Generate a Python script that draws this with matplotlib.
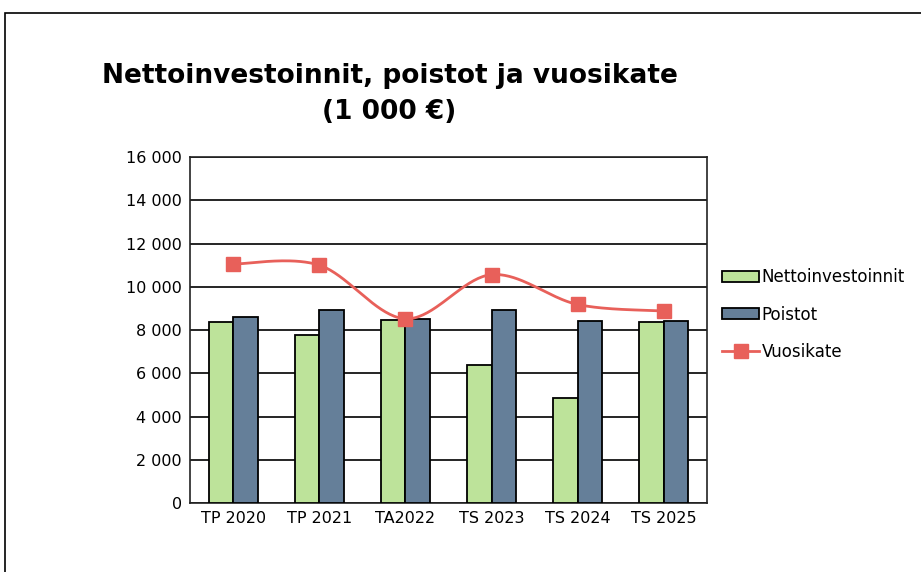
import numpy as np
import matplotlib
matplotlib.use("Agg")
import matplotlib.pyplot as plt
from matplotlib.patches import Rectangle

categories = ["TP 2020", "TP 2021", "TA2022", "TS 2023", "TS 2024", "TS 2025"]
nettoinvestoinnit = [8370, 7780, 8450, 6370, 4840, 8370]
poistot = [8580, 8940, 8490, 8940, 8400, 8400]
vuosikate = [11050, 11000, 8520, 10560, 9180, 8880]

GREEN = "#BDE39A"
BLUE = "#657F99"
RED = "#E8605A"


def smooth(xs, ys, n=40):
    # Excel-like smoothed line (Catmull-Rom via cubic Bezier)
    xs = np.asarray(xs, float)
    ys = np.asarray(ys, float)
    px, py = [], []
    for i in range(len(xs) - 1):
        x0, y0 = (xs[i - 1], ys[i - 1]) if i > 0 else (xs[i], ys[i])
        x3, y3 = (xs[i + 2], ys[i + 2]) if i + 2 < len(xs) else (xs[i + 1], ys[i + 1])
        x1, y1 = xs[i], ys[i]
        x2, y2 = xs[i + 1], ys[i + 1]
        c1x, c1y = x1 + (x2 - x0) / 6, y1 + (y2 - y0) / 6
        c2x, c2y = x2 - (x3 - x1) / 6, y2 - (y3 - y1) / 6
        t = np.linspace(0, 1, n)
        bx = (1 - t) ** 3 * x1 + 3 * (1 - t) ** 2 * t * c1x + 3 * (1 - t) * t ** 2 * c2x + t ** 3 * x2
        by = (1 - t) ** 3 * y1 + 3 * (1 - t) ** 2 * t * c1y + 3 * (1 - t) * t ** 2 * c2y + t ** 3 * y2
        px.extend(bx)
        py.extend(by)
    return px, py


plt.rcParams["font.family"] = ["DejaVu Sans"]

fig = plt.figure(figsize=(9.21, 5.72), dpi=100)
ax = fig.add_axes([0.2063, 0.1206, 0.5613, 0.6049])

x = np.arange(len(categories))
w = 0.285
ax.bar(x - w / 2, nettoinvestoinnit, w, color=GREEN, edgecolor="black", linewidth=1.3,
       label="Nettoinvestoinnit", zorder=3)
ax.bar(x + w / 2, poistot, w, color=BLUE, edgecolor="black", linewidth=1.3,
       label="Poistot", zorder=3)
sx, sy = smooth(x, vuosikate)
ax.plot(sx, sy, color=RED, linewidth=2, zorder=4)
ax.plot(x, vuosikate, linestyle="none", marker="s", markersize=9.5, color=RED, zorder=5)
ax.plot([], [], color=RED, linewidth=2, marker="s", markersize=9.5, label="Vuosikate")

ax.set_xlim(-0.5, len(categories) - 0.5)
ax.set_ylim(0, 16000)
ax.set_yticks(range(0, 16001, 2000))
ax.set_yticklabels([f"{v:,}".replace(",", " ") for v in range(0, 16001, 2000)])
ax.set_xticks(x)
ax.set_xticklabels(categories)
ax.tick_params(length=0, labelsize=11.5, pad=6)
ax.grid(axis="y", color="black", linewidth=1.2, zorder=0)
for s in ax.spines.values():
    s.set_linewidth(1.2)
    s.set_color("#222222")

handles, labels = ax.get_legend_handles_labels()
order = [labels.index(l) for l in ["Nettoinvestoinnit", "Poistot", "Vuosikate"]]
fig.legend([handles[i] for i in order], [labels[i] for i in order],
           loc="center left", bbox_to_anchor=(0.768, 0.45), frameon=False,
           fontsize=12, handlelength=2.2, handleheight=0.6, handletextpad=0.15,
           labelspacing=1.15)

fig.text(0.423, 0.867, "Nettoinvestoinnit, poistot ja vuosikate", ha="center", va="center",
         fontsize=19, fontweight="bold")
fig.text(0.423, 0.805, "(1 000 €)", ha="center", va="center", fontsize=19, fontweight="bold")

fig.patches.append(Rectangle((5 / 921, -0.1), 1.2, (572 - 13) / 572 + 0.1,
                             transform=fig.transFigure, fill=False, edgecolor="black",
                             linewidth=1.2))

fig.savefig("out.png", dpi=100)
